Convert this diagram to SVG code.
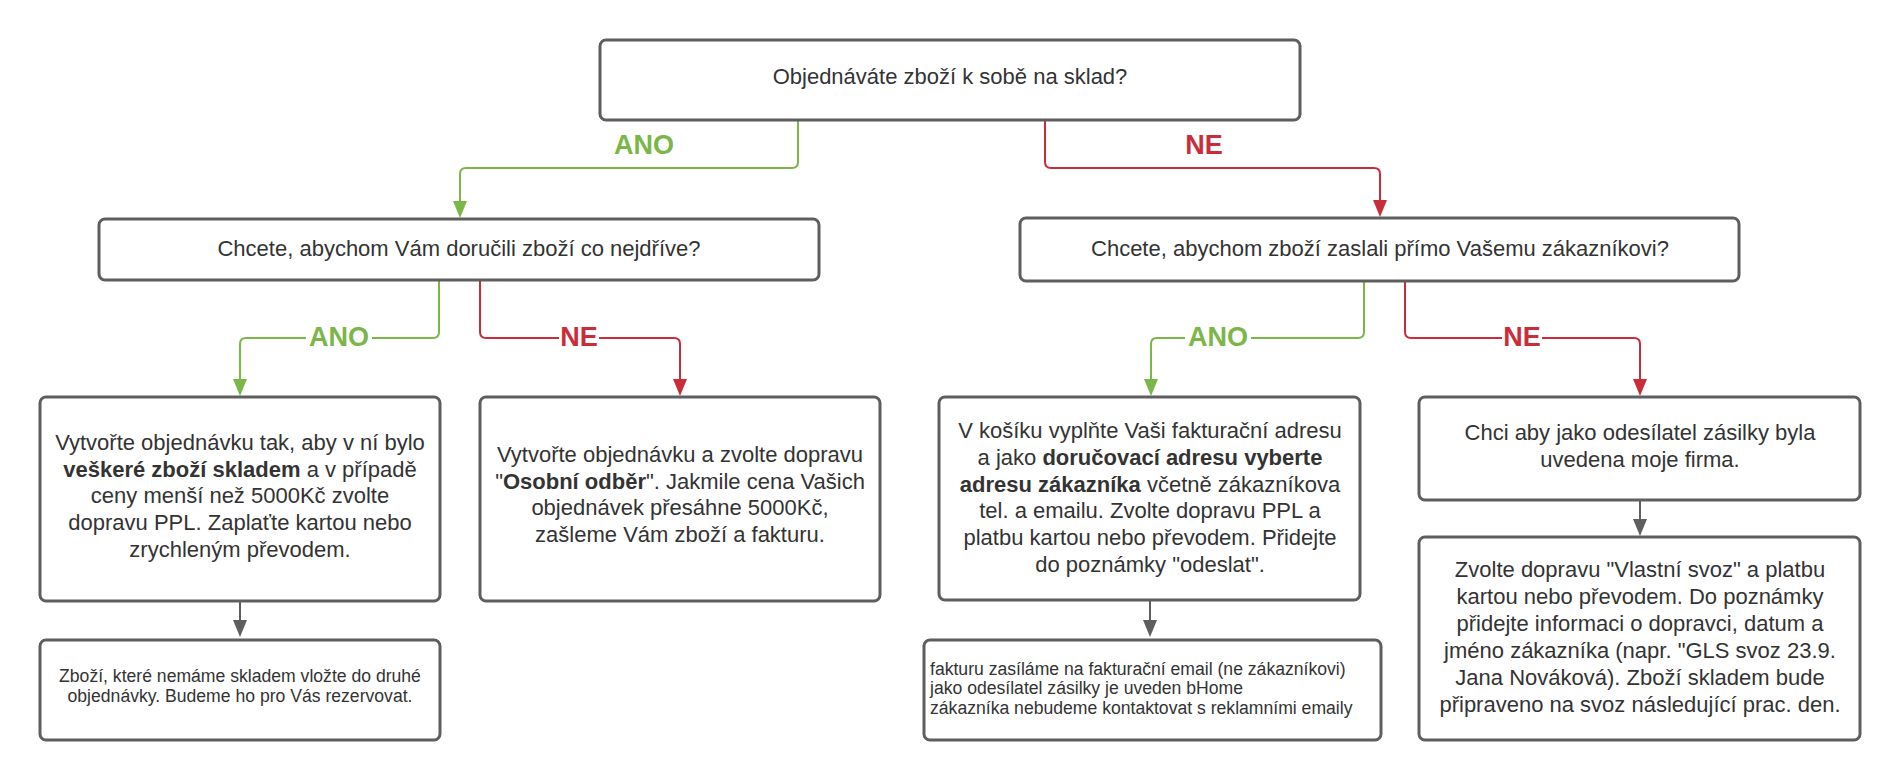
<svg xmlns="http://www.w3.org/2000/svg" width="1900" height="780" viewBox="0 0 1900 780">
<style>
.box{fill:#ffffff;stroke:#5e5e5e;stroke-width:3}
.t{font-family:"Liberation Sans",Arial,sans-serif;font-size:22px;fill:#333333;text-anchor:middle}
.s{font-family:"Liberation Sans",Arial,sans-serif;font-size:17.6px;fill:#333333}
.b{font-weight:bold}
.g{fill:none;stroke:#7ab648;stroke-width:2}
.r{fill:none;stroke:#c92d39;stroke-width:2}
.k{fill:none;stroke:#5e5e5e;stroke-width:2}
.lg{font-family:"Liberation Sans",Arial,sans-serif;font-size:27px;font-weight:bold;fill:#7ab648;text-anchor:middle}
.lr{font-family:"Liberation Sans",Arial,sans-serif;font-size:27px;font-weight:bold;fill:#c92d39;text-anchor:middle}
</style>
<defs>
<marker id="ag" viewBox="0 0 17 14" refX="14" refY="7" markerWidth="17" markerHeight="14" markerUnits="userSpaceOnUse" orient="auto"><path d="M0,0 L17,7 L0,14 z" fill="#7ab648"/></marker>
<marker id="ar" viewBox="0 0 17 14" refX="14" refY="7" markerWidth="17" markerHeight="14" markerUnits="userSpaceOnUse" orient="auto"><path d="M0,0 L17,7 L0,14 z" fill="#c92d39"/></marker>
<marker id="ak" viewBox="0 0 17 14" refX="14" refY="7" markerWidth="17" markerHeight="14" markerUnits="userSpaceOnUse" orient="auto"><path d="M0,0 L17,7 L0,14 z" fill="#5e5e5e"/></marker>
</defs>
<rect width="1900" height="780" fill="#ffffff"/>

<g id="connectors">
<path class="g" d="M798,120 V162 Q798,168 792,168 H466 Q460,168 460,174 V215" marker-end="url(#ag)"/>
<path class="r" d="M1045,120 V162 Q1045,168 1051,168 H1374 Q1380,168 1380,174 V214" marker-end="url(#ar)"/>
<path class="g" d="M439,280 V332 Q439,338 433,338 H246 Q240,338 240,344 V393" marker-end="url(#ag)"/>
<path class="r" d="M480,280 V332 Q480,338 486,338 H674 Q680,338 680,344 V393" marker-end="url(#ar)"/>
<path class="g" d="M1364,281 V332 Q1364,338 1358,338 H1157 Q1151,338 1151,344 V393" marker-end="url(#ag)"/>
<path class="r" d="M1405,281 V332 Q1405,338 1411,338 H1634 Q1640,338 1640,344 V393" marker-end="url(#ar)"/>
<path class="k" d="M240,601 V634" marker-end="url(#ak)"/>
<path class="k" d="M1150,600 V634" marker-end="url(#ak)"/>
<path class="k" d="M1640,500 V533" marker-end="url(#ak)"/>
<rect x="306" y="322" width="66" height="32" fill="#ffffff"/>
<rect x="559" y="322" width="40" height="32" fill="#ffffff"/>
<rect x="1185" y="322" width="66" height="32" fill="#ffffff"/>
<rect x="1502" y="322" width="40" height="32" fill="#ffffff"/>
<text class="lg" x="644" y="154">ANO</text>
<text class="lr" x="1204" y="154">NE</text>
<text class="lg" x="339" y="346">ANO</text>
<text class="lr" x="579" y="346">NE</text>
<text class="lg" x="1218" y="346">ANO</text>
<text class="lr" x="1522" y="346">NE</text>
</g>

<g id="q1">
<rect class="box" x="600" y="40" width="700" height="80" rx="6"/>
<text class="t" x="950" y="84">Objednáváte zboží k sobě na sklad?</text>
</g>

<g id="q2">
<rect class="box" x="99" y="219" width="720" height="61" rx="6"/>
<text class="t" x="459" y="256">Chcete, abychom Vám doručili zboží co nejdříve?</text>
</g>

<g id="q3">
<rect class="box" x="1020" y="218" width="719" height="63" rx="6"/>
<text class="t" x="1380" y="256">Chcete, abychom zboží zaslali přímo Vašemu zákazníkovi?</text>
</g>

<g id="b1">
<rect class="box" x="40" y="397" width="400" height="204" rx="6"/>
<text class="t" x="240" y="450">Vytvořte objednávku tak, aby v ní bylo</text>
<text class="t" x="240" y="476.7"><tspan class="b">veškeré zboží skladem</tspan> a v případě</text>
<text class="t" x="240" y="503.3">ceny menší než 5000Kč zvolte</text>
<text class="t" x="240" y="530">dopravu PPL. Zaplaťte kartou nebo</text>
<text class="t" x="240" y="556.7">zrychleným převodem.</text>
</g>

<g id="b2">
<rect class="box" x="480" y="397" width="400" height="204" rx="6"/>
<text class="t" x="680" y="462">Vytvořte objednávku a zvolte dopravu</text>
<text class="t" x="680" y="488.7">"<tspan class="b">Osobní odběr</tspan>". Jakmile cena Vašich</text>
<text class="t" x="680" y="515.3">objednávek přesáhne 5000Kč,</text>
<text class="t" x="680" y="542">zašleme Vám zboží a fakturu.</text>
</g>

<g id="b3">
<rect class="box" x="939" y="397" width="421" height="203" rx="6"/>
<text class="t" x="1150" y="438.3">V košíku vyplňte Vaši fakturační adresu</text>
<text class="t" x="1150" y="465">a jako <tspan class="b">doručovací adresu vyberte</tspan></text>
<text class="t" x="1150" y="491.7"><tspan class="b">adresu zákazníka</tspan> včetně zákazníkova</text>
<text class="t" x="1150" y="518.3">tel. a emailu. Zvolte dopravu PPL a</text>
<text class="t" x="1150" y="545">platbu kartou nebo převodem. Přidejte</text>
<text class="t" x="1150" y="571.7">do poznámky "odeslat".</text>
</g>

<g id="b4">
<rect class="box" x="1419" y="397" width="441" height="103" rx="6"/>
<text class="t" x="1640" y="440">Chci aby jako odesílatel zásilky byla</text>
<text class="t" x="1640" y="466.7">uvedena moje firma.</text>
</g>

<g id="b5">
<rect class="box" x="40" y="640" width="400" height="100" rx="6"/>
<text class="s" x="240" y="682" text-anchor="middle">Zboží, které nemáme skladem vložte do druhé</text>
<text class="s" x="240" y="702" text-anchor="middle">objednávky. Budeme ho pro Vás rezervovat.</text>
</g>

<g id="b6">
<rect class="box" x="924" y="640" width="457" height="100" rx="6"/>
<text class="s" x="930" y="675">fakturu zasíláme na fakturační email (ne zákazníkovi)</text>
<text class="s" x="930" y="694.3">jako odesílatel zásilky je uveden bHome</text>
<text class="s" x="930" y="713.6">zákazníka nebudeme kontaktovat s reklamními emaily</text>
</g>

<g id="b7">
<rect class="box" x="1419" y="537" width="441" height="203" rx="6"/>
<text class="t" x="1640" y="577">Zvolte dopravu "Vlastní svoz" a platbu</text>
<text class="t" x="1640" y="604">kartou nebo převodem. Do poznámky</text>
<text class="t" x="1640" y="631">přidejte informaci o dopravci, datum a</text>
<text class="t" x="1640" y="658">jméno zákazníka (napr. "GLS svoz 23.9.</text>
<text class="t" x="1640" y="685">Jana Nováková). Zboží skladem bude</text>
<text class="t" x="1640" y="712">připraveno na svoz následující prac. den.</text>
</g>
</svg>
